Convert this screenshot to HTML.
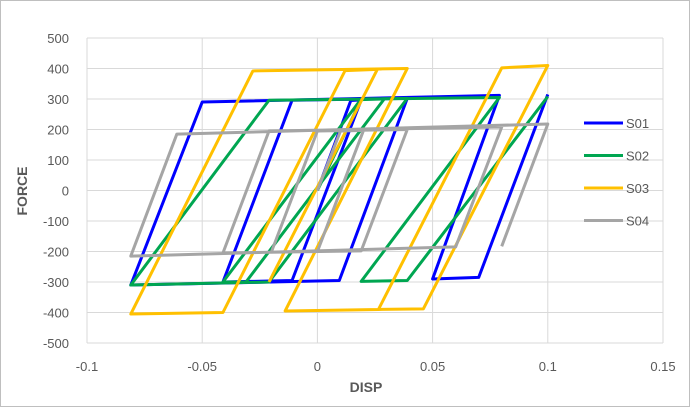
<!DOCTYPE html>
<html><head><meta charset="utf-8"><style>
html,body{margin:0;padding:0;background:#fff;}
svg{display:block;font-family:"Liberation Sans",sans-serif;}
</style></head><body>
<svg id="chart" width="691" height="408">
<rect x="0.5" y="0.5" width="689" height="406" fill="#fff" stroke="#bfbfbf"/>
<g id="grid"></g><g id="series"></g><g id="labels"></g><g id="legend"></g>
<text x="366" y="392" font-size="14" font-weight="bold" fill="#595959" text-anchor="middle">DISP</text>
<text x="27" y="191" font-size="14" font-weight="bold" fill="#595959" text-anchor="middle" transform="rotate(-90 27 191)">FORCE</text>
</svg>
<script>
const xTicks=[-0.1,-0.05,0,0.05,0.1,0.15];
const xTickLabels=["-0.1","-0.05","0","0.05","0.1","0.15"];
const yTicks=[500,400,300,200,100,0,-100,-200,-300,-400,-500];
const seriesNames=["S01","S02","S03","S04"];
const seriesColors=["#0000ff","#00a651","#ffc000","#a5a5a5"];
const s01=[[0,0],[0.0145,295],[0.019,297],[-0.011,-295],[-0.041,-300],[-0.011,296],[0.039,302],[0.0095,-295],[-0.081,-310],[-0.05,290],[0.079,312],[0.05,-290],[0.07,-285],[0.1,315]];
const s02=[[0,0],[0.019,298],[0.029,300],[-0.031,-300],[-0.041,-300],[0.019,300],[0.039,302],[-0.021,-300],[-0.081,-310],[-0.021,296],[0.079,305],[0.019,-298],[0.039,-295],[0.1,308]];
const s03=[[-0.021,-300],[0.026,397],[0.012,393],[-0.041,-400],[-0.081,-405],[-0.028,392],[0.039,400],[-0.014,-395],[0.0265,-390],[0.08,402],[0.1,410],[0.046,-388],[0.0265,-390]];
const s04=[[0,0],[0.01,195],[0.02,197],[0,-200],[-0.02,-202],[0,195],[0.039,200],[0.019,-198],[-0.041,-205],[-0.021,195],[0.08,208],[0.06,-185],[-0.081,-215],[-0.061,185],[0.1,218],[0.08,-183]];
const allSeries=[s01,s02,s03,s04];
const X0=87,X1=663,Y0=38,Y1=343;
function xs(v){return X0+(v+0.1)/0.25*(X1-X0);}
function ys(v){return Y1-(v+500)/1000*(Y1-Y0);}
const NS="http://www.w3.org/2000/svg";
function mk(t,a,p){const e=document.createElementNS(NS,t);for(const k in a)e.setAttribute(k,a[k]);p.appendChild(e);return e;}
const grid=document.getElementById('grid'),labels=document.getElementById('labels');
yTicks.forEach(v=>{
 const l=mk('line',{x1:X0,x2:X1,y1:ys(v),y2:ys(v),stroke:'#d9d9d9','stroke-width':1},grid);
 
 
 const t=mk('text',{x:X0-18,y:ys(v)+5,'font-size':13,fill:'#595959','text-anchor':'end'},labels);
 t.textContent=v;
 
 
});
xTicks.forEach((v,i)=>{
 const l=mk('line',{x1:xs(v),x2:xs(v),y1:Y0,y2:Y1,stroke:'#d9d9d9','stroke-width':1},grid);
 
 
 const t=mk('text',{x:xs(v),y:371,'font-size':13,fill:'#595959','text-anchor':'middle'},labels);
 t.textContent=xTickLabels[i];
 
 
});
const sg=document.getElementById('series'),lg=document.getElementById('legend');
allSeries.forEach((s,i)=>{
 const p=mk('polyline',{points:s.map(d=>xs(d[0])+','+ys(d[1])).join(' '),fill:'none',stroke:seriesColors[i],'stroke-width':3,'stroke-linejoin':'round'},sg);
 
 
 const y=123+i*32.5;
 const ll=mk('line',{x1:584,x2:623,y1:y,y2:y,stroke:seriesColors[i],'stroke-width':3},lg);
 
 
 const t=mk('text',{x:626,y:y+5,'font-size':13,fill:'#595959'},lg);
 t.textContent=seriesNames[i];
 
 
});
</script>
</body></html>
